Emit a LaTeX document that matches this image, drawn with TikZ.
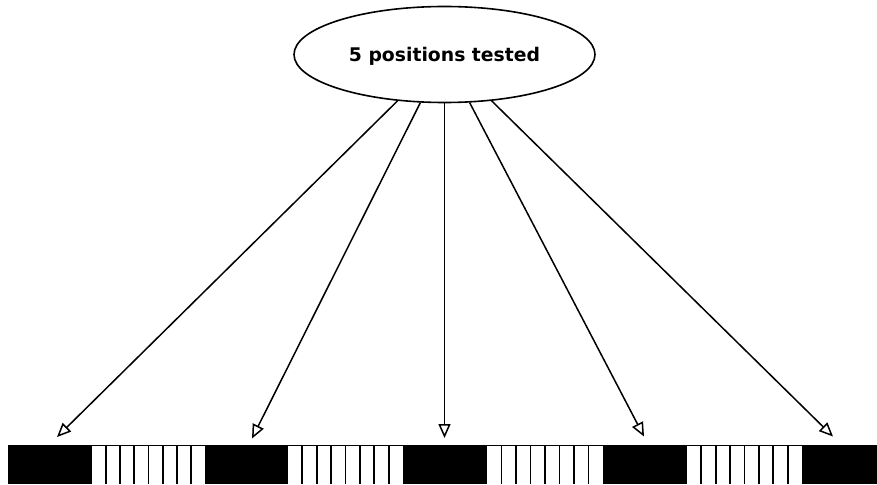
\documentclass[tikz,border=0pt]{standalone}
\usepackage{fontspec}
\setmainfont{DejaVu Sans}
\usetikzlibrary{shapes.geometric,arrows.meta}
\tikzset{
  ell/.style={ellipse, draw, line width=1.6pt, minimum width=301pt, minimum height=96pt, inner sep=0pt,
    text depth=0pt, font=\fontsize{18.8}{20}\selectfont\bfseries},
  arr/.style={draw, line width=1.5pt, -{Triangle[open, length=14pt, width=12pt, line width=1.5pt]}},
  blk/.style={fill=black},
  stripe/.style={line width=1.8pt},
  topline/.style={line width=1.2pt}
}
\begin{document}
\begin{tikzpicture}[x=1pt,y=-1pt]
\useasboundingbox (0,0) rectangle (877,484);
\node[ell] (src) at (444.5,54.5) {5 positions tested};
% bar
\draw[topline] (8,445.5) -- (877,445.5);
\foreach \a/\b in {8/92,205/288,403/487,603/687,802/877}{
  \fill[blk] (\a,445) rectangle (\b,484);
}
\foreach \a/\b in {92/205,288/403,487/603,687/802}{
  \foreach \k in {1,...,7}{
    \draw[stripe] ({\a+\k*(\b-\a)/8},445) -- ({\a+\k*(\b-\a)/8},484);
  }
}
\coordinate (t1) at (57,437);
\coordinate (t2) at (252,438.5);
\coordinate (t3) at (444.5,438);
\coordinate (t4) at (644,436.5);
\coordinate (t5) at (833,436.5);
\foreach \t in {t1,t2,t3,t4,t5}{
  \draw[arr] (src) -- (\t);
}
\end{tikzpicture}
\end{document}
